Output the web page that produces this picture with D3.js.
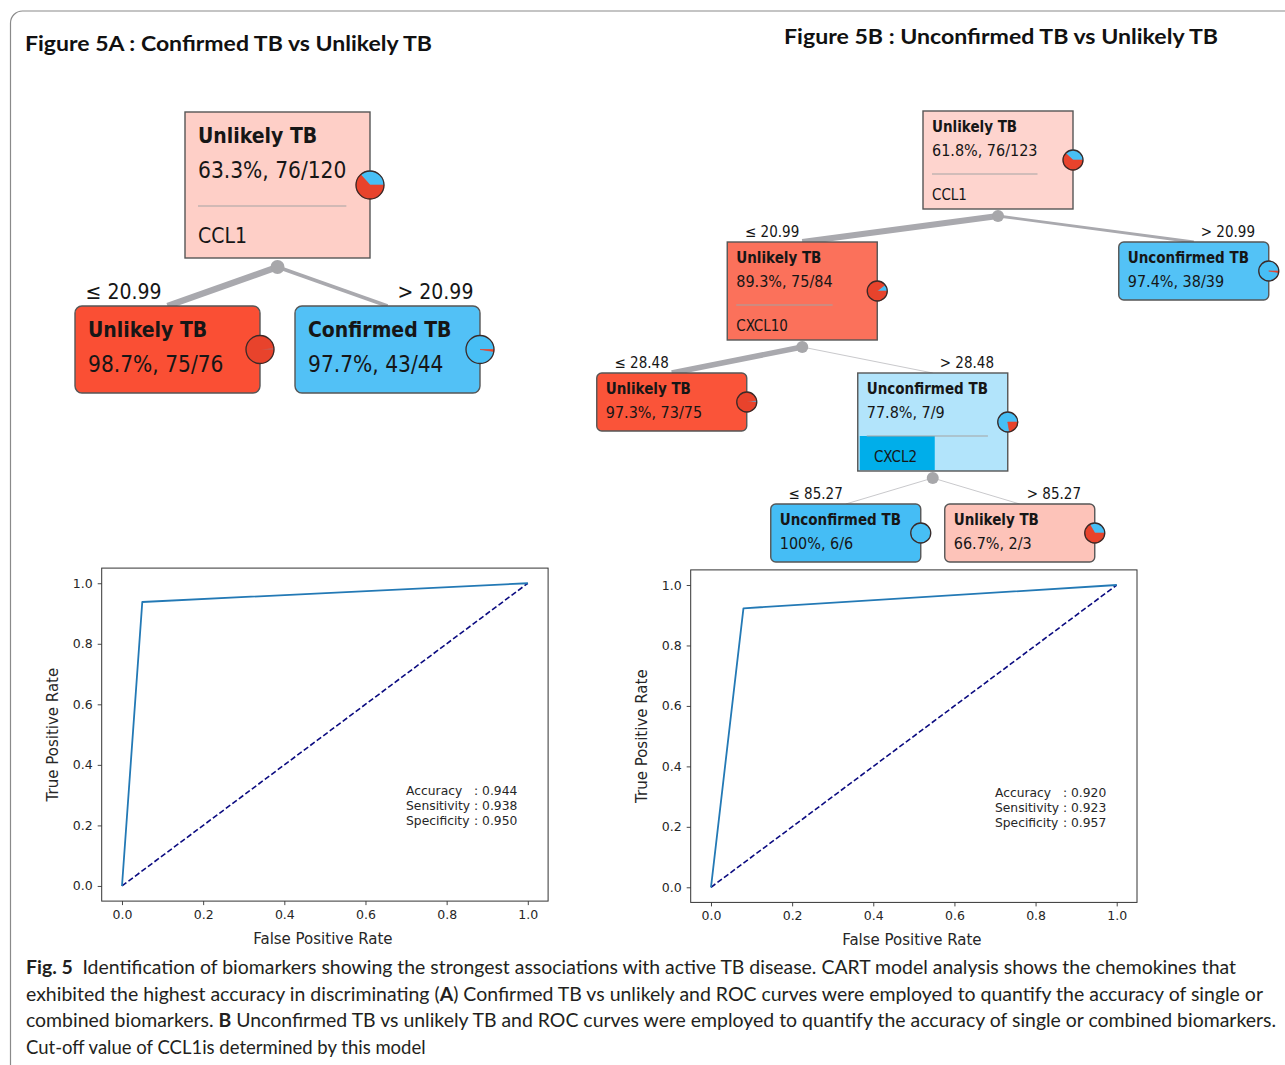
<!DOCTYPE html>
<html>
<head>
<meta charset="utf-8">
<script src="https://cdn.jsdelivr.net/npm/d3@7"></script>
<style>
  body { margin: 0; background: #ffffff; }
  svg { display: block; }
  .node-text { font-family: "DejaVu Sans Condensed", "DejaVu Sans", sans-serif; font-stretch: condensed; fill: #161616; }
  .mpl { font-family: "DejaVu Sans", sans-serif; fill: #262626; }
  .head { font-family: Lato, "Open Sans", sans-serif; font-weight: 700; fill: #111; }
  .cap { font-family: Lato, "Open Sans", sans-serif; fill: #231f20; }
</style>
</head>
<body>
<svg id="fig" width="1285" height="1065"></svg>
<script>
// ---------- panel titles ----------
const headerA = "Figure 5A : Confirmed TB vs Unlikely TB";
const headerB = "Figure 5B : Unconfirmed TB vs Unlikely TB";

// ---------- classification tree A (Confirmed TB vs Unlikely TB) ----------
const treeAClasses = ["Unlikely TB", "Confirmed TB"];
const treeAIds = ["a0", "a1", "a2"];
const treeAParents = ["", "a0", "a0"];
const treeAUnlikely = [76, 75, 1];
const treeAOther = [44, 1, 43];
const treeASplit = ["CCL1", "", ""];
const treeACondition = ["", "≤ 20.99", "> 20.99"];

// ---------- classification tree B (Unconfirmed TB vs Unlikely TB) ----------
const treeBClasses = ["Unlikely TB", "Unconfirmed TB"];
const treeBIds = ["b0", "b1", "b2", "b3", "b4", "b5", "b6"];
const treeBParents = ["", "b0", "b0", "b1", "b1", "b4", "b4"];
const treeBUnlikely = [76, 75, 1, 73, 2, 0, 2];
const treeBOther = [47, 9, 38, 2, 7, 6, 1];
const treeBSplit = ["CCL1", "CXCL10", "", "", "CXCL2", "", ""];
const treeBCondition = ["", "≤ 20.99", "> 20.99", "≤ 28.48", "> 28.48", "≤ 85.27", "> 85.27"];

// ---------- ROC curves ----------
const rocTicks = [0.0, 0.2, 0.4, 0.6, 0.8, 1.0];
const rocAFpr = [0, 0.05, 1];
const rocATpr = [0, 0.938, 1];
const rocBFpr = [0, 0.08, 1];
const rocBTpr = [0, 0.923, 1];
const chanceFpr = [0, 1];
const chanceTpr = [0, 1];
const metricNames = ["Accuracy", "Sensitivity", "Specificity"];
const rocAMetrics = [0.944, 0.938, 0.950];
const rocBMetrics = [0.920, 0.923, 0.957];

// ---------- caption (segments: [text, bold]) ----------
const captionLines = [
  [["Fig. 5", true], ["\u2002Identification of biomarkers showing the strongest associations with active TB disease. CART model analysis shows the chemokines that", false]],
  [["exhibited the highest accuracy in discriminating (", false], ["A", true], [") Confirmed TB vs unlikely and ROC curves were employed to quantify the accuracy of single or", false]],
  [["combined biomarkers. ", false], ["B", true], [" Unconfirmed TB vs unlikely TB and ROC curves were employed to quantify the accuracy of single or combined biomarkers.", false]],
  [["Cut-off value of CCL1is determined by this model", false]]
];

// =====================================================================
const svg = d3.select("#fig");
const RED = "#fa4a2e", BLUE = "#45bdf5";
const PIE_RED = "#e8432c", PIE_BLUE = "#47bff5";

// node shade: strength grows with the majority-class share
const shade = (negMajor, p) => {
  const t = (p - 0.5) / 0.5;
  return negMajor ? d3.interpolateRgb("#ffffff", RED)(t)
                  : d3.interpolateRgb("#ffffff", BLUE)(Math.pow(t, 1.5));
};

// outer figure frame (open to the right and bottom)
svg.append("path")
  .attr("d", "M10.5,1080 V23 A12,12 0 0 1 22.5,11 H1300")
  .attr("fill", "none").attr("stroke", "#8a8a8a").attr("stroke-width", 1.2);

svg.append("text").attr("class", "head").attr("x", 25).attr("y", 51)
  .attr("font-size", 21).attr("textLength", 407).attr("lengthAdjust", "spacingAndGlyphs").text(headerA);
svg.append("text").attr("class", "head").attr("x", 784).attr("y", 44)
  .attr("font-size", 21).attr("textLength", 434).attr("lengthAdjust", "spacingAndGlyphs").text(headerB);

const pct = p => p === 1 ? "100%" : (p * 100).toFixed(1) + "%";

function drawTree(cfg, classes, ids, parents, neg, pos, split, cond) {
  const rows = ids.map((id, i) => ({ id, parent: parents[i] || null, neg: neg[i], pos: pos[i], split: split[i], cond: cond[i] }));
  const root = d3.stratify().id(d => d.id).parentId(d => d.parent)(rows);
  d3.cluster().nodeSize([1, 1]).separation(() => 1)(root);

  const xs = d3.scaleLinear().domain([0, 1]).range([cfg.rootX, cfg.rootX + cfg.leafGap]);
  const tops = d3.scaleLinear().domain([0, 1]).range([cfg.top0, cfg.top0 + cfg.levelGap]);
  const N = root.data.neg + root.data.pos;
  const g = svg.append("g");
  const gEdges = g.append("g"), gKnobs = g.append("g"), gNodes = g.append("g");

  const heightOf = d => d.children ? cfg.hInt : cfg.hLeaf;

  // edges from the split knob to each child
  root.links().forEach(l => {
    const px = xs(l.source.x), py = tops(l.source.depth) + cfg.hInt + cfg.knobDy;
    const cx = xs(l.target.x), cy = tops(l.target.depth);
    const n = l.target.data.neg + l.target.data.pos;
    const w = Math.max(1, n / N * cfg.edgeScale);
    gEdges.append("line").attr("x1", px).attr("y1", py).attr("x2", cx).attr("y2", cy)
      .attr("stroke", w < 1.5 ? "#c9c9cc" : "#a9a9ae").attr("stroke-width", w);
    const first = l.source.children[0] === l.target;
    gEdges.append("text").attr("class", "node-text")
      .attr("x", cx + (first ? cfg.condLeft : cfg.condRight))
      .attr("y", cy + cfg.condDy)
      .attr("text-anchor", first ? "end" : "start")
      .attr("font-size", cfg.fs).text(l.target.data.cond);
  });

  root.descendants().forEach(d => {
    if (d.children) {
      gKnobs.append("circle").attr("cx", xs(d.x)).attr("cy", tops(d.depth) + cfg.hInt + cfg.knobDy)
        .attr("r", cfg.knobR).attr("fill", "#a7a7aa");
    }
  });

  const arc = d3.arc().innerRadius(0).outerRadius(cfg.pieR);

  root.descendants().forEach(d => {
    const internal = !!d.children;
    const cx = xs(d.x), t = tops(d.depth), h = heightOf(d);
    const left = cx - cfg.nodeW / 2;
    const total = d.data.neg + d.data.pos;
    const negMajor = d.data.neg >= d.data.pos;
    const p = Math.max(d.data.neg, d.data.pos) / total;
    const ng = gNodes.append("g");

    ng.append("rect").attr("x", left).attr("y", t).attr("width", cfg.nodeW).attr("height", h)
      .attr("rx", internal ? 0 : cfg.leafRx).attr("fill", shade(negMajor, p))
      .attr("stroke", "#565656").attr("stroke-width", 1.4);

    const title = ng.append("text").attr("class", "node-text").attr("x", left + cfg.pad).attr("y", t + cfg.titleY)
      .attr("font-size", cfg.fs).attr("font-weight", 700).text(negMajor ? classes[0] : classes[1]);
    const value = ng.append("text").attr("class", "node-text").attr("x", left + cfg.pad).attr("y", t + cfg.valueY)
      .attr("font-size", cfg.valueFs).text(pct(p) + ", " + Math.max(d.data.neg, d.data.pos) + "/" + total);

    if (internal) {
      const tw = Math.max(title.node().getComputedTextLength(), value.node().getComputedTextLength());
      const selected = cfg.selected === d.id;
      if (selected) {
        ng.append("rect").attr("x", left + 2).attr("y", t + cfg.sepY)
          .attr("width", cfg.nodeW / 2).attr("height", h - cfg.sepY - 1).attr("fill", "#00aeea");
      }
      ng.append("line").attr("x1", left + cfg.pad).attr("x2", left + cfg.pad + tw)
        .attr("y1", t + cfg.sepY).attr("y2", t + cfg.sepY).attr("stroke", "#a4a4a4").attr("stroke-width", 1.2);
      ng.append("text").attr("class", "node-text").attr("x", left + (selected ? cfg.pad * 1.8 : cfg.pad)).attr("y", t + cfg.attrY)
        .attr("font-size", cfg.fs).text(d.data.split);
    }

    // class distribution pie on the right border
    const fb = d.data.pos / total;
    const start = Math.PI / 2 - 2 * Math.PI * fb;
    const slices = d3.pie().sort(null).value(v => v).startAngle(start).endAngle(start + 2 * Math.PI)([d.data.pos, d.data.neg]);
    const pg = ng.append("g").attr("transform", `translate(${left + cfg.nodeW},${t + h / 2})`);
    pg.append("circle").attr("r", cfg.pieR).attr("fill", PIE_RED);
    slices.forEach((s, i) => {
      if (s.endAngle - s.startAngle <= 0) return;
      pg.append("path").attr("d", arc(s)).attr("fill", i === 0 ? PIE_BLUE : PIE_RED)
        .attr("stroke", i === 0 ? PIE_BLUE : PIE_RED).attr("stroke-width", 0.6);
    });
    pg.append("circle").attr("r", cfg.pieR).attr("fill", "none").attr("stroke", "#3a2a28").attr("stroke-width", 1.3);
  });
}

drawTree({ rootX: 277.5, leafGap: 220, top0: 112, levelGap: 194, nodeW: 185, hInt: 146, hLeaf: 87,
  pad: 13, titleY: 31, valueY: 66, sepY: 94, attrY: 131, fs: 21, valueFs: 22.5, pieR: 14,
  knobDy: 9, knobR: 7, leafRx: 7, edgeScale: 10, condLeft: -6, condRight: 10, condDy: -7 },
  treeAClasses, treeAIds, treeAParents, treeAUnlikely, treeAOther, treeASplit, treeACondition);

drawTree({ rootX: 998, leafGap: 174, top0: 111, levelGap: 131, nodeW: 150, hInt: 98, hLeaf: 58,
  pad: 9, titleY: 21, valueY: 45, sepY: 63, attrY: 89, fs: 15, valueFs: 16, pieR: 10,
  knobDy: 7, knobR: 6, leafRx: 5, edgeScale: 9, condLeft: -3, condRight: 7, condDy: -5, selected: "b4" },
  treeBClasses, treeBIds, treeBParents, treeBUnlikely, treeBOther, treeBSplit, treeBCondition);

// ---------- ROC panels ----------
function drawRoc(box, fpr, tpr, metrics) {
  const x = d3.scaleLinear().domain([-0.05, 1.05]).range([box.left, box.right]);
  const y = d3.scaleLinear().domain([-0.05, 1.05]).range([box.bottom, box.top]);
  const g = svg.append("g");
  const fmt = d3.format(".1f");

  const ax = g.append("g").attr("transform", `translate(0,${box.bottom})`)
    .call(d3.axisBottom(x).tickValues(rocTicks).tickFormat(fmt).tickSize(4).tickPadding(5).tickSizeOuter(0));
  const ay = g.append("g").attr("transform", `translate(${box.left},0)`)
    .call(d3.axisLeft(y).tickValues(rocTicks).tickFormat(fmt).tickSize(4).tickPadding(5).tickSizeOuter(0));
  [ax, ay].forEach(a => {
    a.select(".domain").remove();
    a.selectAll(".tick line").attr("stroke", "#333").attr("stroke-width", 0.9);
    a.selectAll(".tick text").attr("class", "mpl").attr("font-size", 12.5).attr("fill", "#262626");
  });

  const line = d3.line().x(d => x(d[0])).y(d => y(d[1]));
  g.append("path").attr("d", line(chanceFpr.map((v, i) => [v, chanceTpr[i]])))
    .attr("fill", "none").attr("stroke", "#0b0b80").attr("stroke-width", 1.6).attr("stroke-dasharray", "5.5,2.6");
  g.append("path").attr("d", line(fpr.map((v, i) => [v, tpr[i]])))
    .attr("fill", "none").attr("stroke", "#2379b5").attr("stroke-width", 1.8).attr("stroke-linejoin", "round");

  g.append("rect").attr("x", box.left).attr("y", box.top).attr("width", box.right - box.left)
    .attr("height", box.bottom - box.top).attr("fill", "none").attr("stroke", "#333").attr("stroke-width", 1);

  g.append("text").attr("class", "mpl").attr("x", (box.left + box.right) / 2 - 2).attr("y", box.bottom + 43)
    .attr("text-anchor", "middle").attr("font-size", 15).text("False Positive Rate");
  g.append("text").attr("class", "mpl").attr("text-anchor", "middle").attr("font-size", 15)
    .attr("transform", `translate(${box.left - 44},${(box.top + box.bottom) / 2}) rotate(-90)`)
    .text("True Positive Rate");

  const tx = x(0.70), ty = y(0.30);
  metricNames.forEach((name, i) => {
    g.append("text").attr("class", "mpl").attr("x", tx).attr("y", ty + i * 15).attr("font-size", 12.3).text(name);
    g.append("text").attr("class", "mpl").attr("x", tx + 68).attr("y", ty + i * 15).attr("font-size", 12.3)
      .text(": " + metrics[i].toFixed(3));
  });
}

drawRoc({ left: 101.7, right: 548.1, top: 568.1, bottom: 901.1 }, rocAFpr, rocATpr, rocAMetrics);
drawRoc({ left: 690.7, right: 1137.0, top: 569.9, bottom: 902.4 }, rocBFpr, rocBTpr, rocBMetrics);

// ---------- caption ----------
const capWidths = [1210, 1237, 1250, null];
captionLines.forEach((segs, i) => {
  const t = svg.append("text").attr("class", "cap").attr("x", 26).attr("y", 974 + i * 26.6).attr("font-size", 18.5);
  if (capWidths[i]) t.attr("textLength", capWidths[i]).attr("lengthAdjust", "spacingAndGlyphs");
  segs.forEach(([s, b]) => t.append("tspan").attr("font-weight", b ? 700 : 400).text(s));
});
</script>
</body>
</html>
